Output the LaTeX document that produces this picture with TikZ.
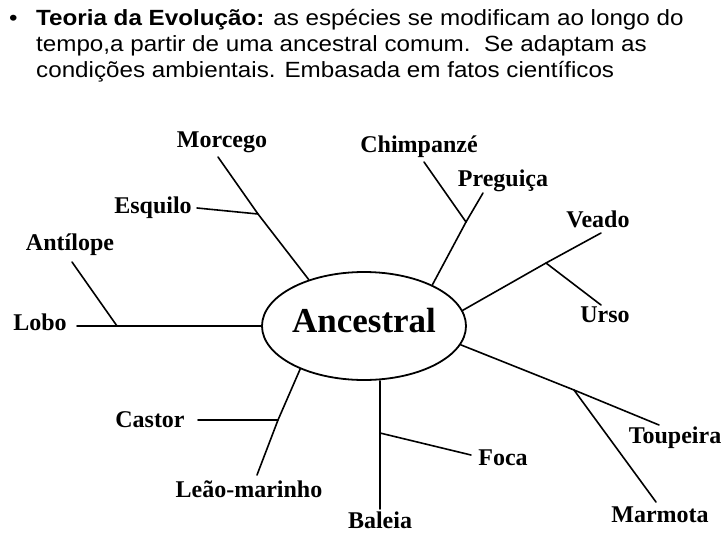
\documentclass[tikz,border=0pt]{standalone}
\usepackage{fontspec}
\setmainfont{Liberation Serif}
\newfontfamily\hdrfont[FakeStretch=1.1]{Liberation Sans}
\usetikzlibrary{shapes.geometric}
\tikzset{
  hdr/.style={font=\hdrfont\fontsize{22}{26}\selectfont, inner sep=0pt, anchor=base west},
  lab/.style={font=\bfseries\fontsize{24}{28}\selectfont, inner sep=0pt, anchor=base},
  branch/.style={line width=1.6pt, line cap=round},
}
\begin{document}
\begin{tikzpicture}[x=1pt,y=-1pt]
\useasboundingbox[fill=white] (0,0) rectangle (728,546);
% header
\node[hdr] (bul) at (9,25.5) {•};
\node[hdr] (l1) at (36,25.5) {\textbf{Teoria da Evolução:} as espécies se modificam ao longo do};
\node[hdr] (l2) at (36,51.5) {tempo,a partir de uma ancestral comum.\ \ Se adaptam as};
\node[hdr] (l3) at (36,77) {condições ambientais. Embasada em fatos científicos};
% central ellipse
\node[draw, ellipse, line width=1.8pt, minimum width=204pt, minimum height=108pt,
      inner sep=0pt, text height=24pt, text depth=12pt,
      font=\bfseries\fontsize{35}{40}\selectfont] (anc) at (364,326) {Ancestral};
% labels
\node[lab] (mor) at (222,147) {Morcego};
\node[lab] (esq) at (153,213) {Esquilo};
\node[lab] (ant) at (70,250) {Antílope};
\node[lab] (lob) at (40,330) {Lobo};
\node[lab] (chi) at (419,152) {Chimpanzé};
\node[lab] (pre) at (503,186) {Preguiça};
\node[lab] (vea) at (598,227) {Veado};
\node[lab] (urs) at (605,322) {Urso};
\node[lab] (cas) at (150,427) {Castor};
\node[lab] (leo) at (249,497) {Leão-marinho};
\node[lab] (bal) at (380,528) {Baleia};
\node[lab] (foc) at (503,465) {Foca};
\node[lab] (tou) at (675,443) {Toupeira};
\node[lab] (mar) at (660,522) {Marmota};
% junctions and free ends
\coordinate (jmor) at (258,214);
\coordinate (emor) at (218,157);
\coordinate (eesq) at (197,208);
\coordinate (elob) at (77,326);
\coordinate (jlob) at (117,326);
\coordinate (eant) at (72,262);
\coordinate (jchi) at (466,222);
\coordinate (echi) at (424,162);
\coordinate (epre) at (483,193);
\coordinate (jvea) at (546,263);
\coordinate (evea) at (601,233);
\coordinate (eurs) at (601,305);
\coordinate (jtou) at (574,390);
\coordinate (etou) at (659,425);
\coordinate (emar) at (656,502);
\coordinate (jbal) at (380,433);
\coordinate (ebal) at (380,509);
\coordinate (efoc) at (471,455);
\coordinate (jcas) at (278,420);
\coordinate (ecas) at (198,420);
\coordinate (eleo) at (257,475);
% branches
\draw[branch] (anc.140) -- (jmor) -- (emor);
\draw[branch] (eesq) -- (jmor);
\draw[branch] (elob) -- (anc.west);
\draw[branch] (eant) -- (jlob);
\draw[branch] (anc.31) -- (jchi) -- (echi);
\draw[branch] (jchi) -- (epre);
\draw[branch] (anc.9) -- (jvea) -- (evea);
\draw[branch] (jvea) -- (eurs);
\draw[branch] (anc.-11) -- (jtou) -- (etou);
\draw[branch] (jtou) -- (emar);
\draw[branch] (anc.south -| jbal) -- (ebal);
\draw[branch] (jbal) -- (efoc);
\draw[branch] (anc.-146) -- (jcas) -- (eleo);
\draw[branch] (ecas) -- (jcas);
\end{tikzpicture}
\end{document}
